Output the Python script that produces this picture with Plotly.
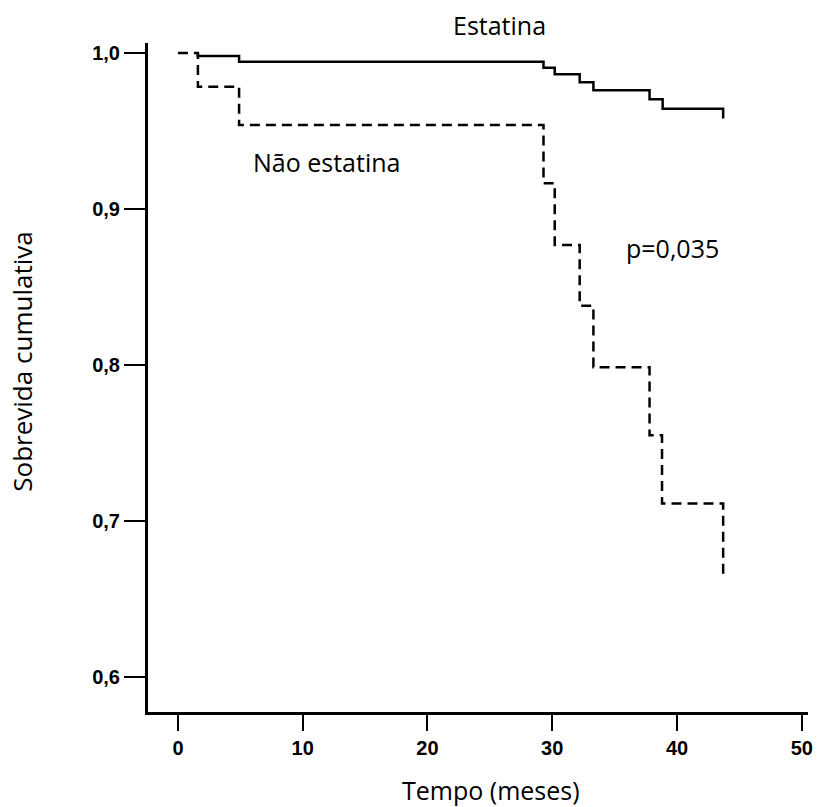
import plotly.graph_objects as go

# Kaplan-Meier step data (time in months, cumulative survival)
estatina_t = [1.6, 4.9, 29.3, 30.2, 32.2, 33.3, 37.8, 38.85, 43.7]
estatina_s = [0.998, 0.9944, 0.9906, 0.9863, 0.9812, 0.9761, 0.9703, 0.9643, 0.958]

nao_t = [0, 1.6, 4.9, 29.3, 30.2, 32.2, 33.3, 37.8, 38.8, 43.7]
nao_s = [1.0, 0.9784, 0.9538, 0.9165, 0.877, 0.838, 0.7985, 0.755, 0.7113, 0.6654]

x_ticks = [0, 10, 20, 30, 40, 50]
y_ticks = [0.6, 0.7, 0.8, 0.9, 1.0]
y_tick_labels = ["0,6", "0,7", "0,8", "0,9", "1,0"]


def steps(t, s, start_level):
    xs, ys = [], []
    level = start_level
    for i, (ti, si) in enumerate(zip(t, s)):
        if i == 0 and start_level is None:
            xs.append(ti); ys.append(si)
            level = si
            continue
        xs += [ti, ti]
        ys += [level, si]
        level = si
    return xs, ys


ex, ey = steps(estatina_t, estatina_s, 1.0)
nx, ny = steps(nao_t, nao_s, None)

fig = go.Figure()
fig.add_trace(go.Scatter(x=ex, y=ey, mode="lines",
                         line=dict(color="black", width=2.5), showlegend=False))
fig.add_trace(go.Scatter(x=nx, y=ny, mode="lines",
                         line=dict(color="black", width=2.5, dash="10px,6px"),
                         showlegend=False))

tick_font = dict(family="Liberation Sans, Arial", size=20, color="black", weight="bold")
text_font = dict(family="Open Sans", size=25, color="black")
title_font = dict(family="Open Sans", size=25, color="black")

ann = dict(showarrow=False, xanchor="center", yanchor="middle")

fig.update_layout(
    width=825, height=807,
    margin=dict(l=148, r=13, t=43, b=95),
    plot_bgcolor="white", paper_bgcolor="white",
    xaxis=dict(range=[-2.4, 50.5], tickvals=x_ticks, ticktext=[str(v) for v in x_ticks],
               showgrid=False, zeroline=False, showline=True, linecolor="black", linewidth=3,
               ticks="outside", ticklen=16, tickwidth=1.5, tickcolor="black",
               tickfont=tick_font),
    yaxis=dict(range=[0.5776, 1.0064], tickvals=y_ticks, ticktext=y_tick_labels,
               showgrid=False, zeroline=False, showline=True, linecolor="black", linewidth=3,
               ticks="outside", ticklen=21, tickwidth=1.5, tickcolor="black",
               tickfont=tick_font),
    annotations=[
        dict(x=0.532, y=1.027, xref="paper", yref="paper", text="Estatina",
             font=text_font, **ann),
        dict(x=11.9, y=0.930, xref="x", yref="y", text="Não estatina",
             font=text_font, **ann),
        dict(x=39.6, y=0.875, xref="x", yref="y", text="p=0,035",
             font=text_font, **ann),
        dict(x=0.52, y=-0.1166, xref="paper", yref="paper", text="Tempo (meses)",
             font=title_font, **ann),
        dict(x=-0.19, y=0.523, xref="paper", yref="paper", text="Sobrevida cumulativa",
             textangle=-90, font=dict(family="Open Sans", size=26, color="black"), **ann),
    ],
)

fig.write_html("out.html", config={"displayModeBar": False},
               post_script="document.body.style.margin='0px';")
